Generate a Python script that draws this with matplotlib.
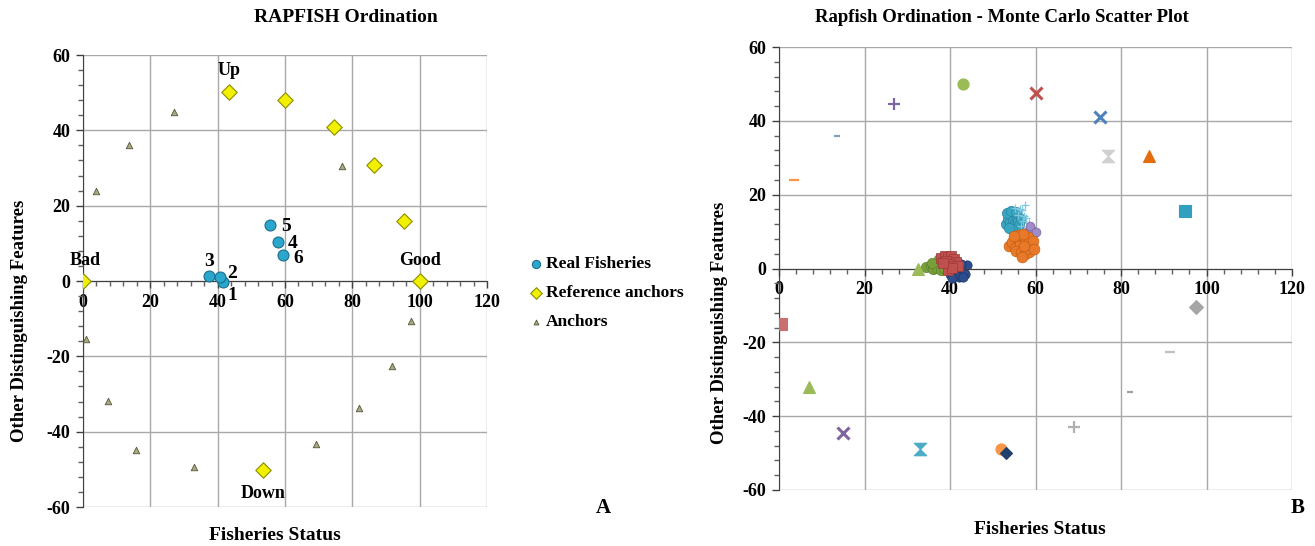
import matplotlib
matplotlib.use("Agg")
import matplotlib.pyplot as plt
from matplotlib.path import Path
from matplotlib.ticker import MultipleLocator

plt.rcParams['font.family'] = ['Liberation Serif', 'DejaVu Serif']
plt.rcParams['font.weight'] = 'bold'
plt.rcParams['axes.unicode_minus'] = False

# ---------------- Panel A data ----------------
real_x = [41.5, 40.8, 37.3, 58.0, 55.6, 59.4]
real_y = [-0.3, 1.0, 1.3, 10.4, 14.8, 7.0]
real_labels = ['1', '2', '3', '4', '5', '6']

ref_x = [0, 100, 43.5, 60.0, 74.6, 86.4, 95.3, 53.5]
ref_y = [0, 0, 50.2, 48.0, 41.0, 30.8, 15.8, -50.2]

anc_x = [27.0, 13.7, 3.8, 76.8, 0.9, 7.3, 15.7, 33.0, 69.2, 82.0, 91.8, 97.5]
anc_y = [45.0, 36.0, 23.9, 30.6, -15.3, -31.9, -44.8, -49.3, -43.4, -33.7, -22.5, -10.5]

ticks_x = [0, 20, 40, 60, 80, 100, 120]
ticks_y = [-60, -40, -20, 0, 20, 40, 60]

# ---------------- Panel B data ----------------
mc_x = [3.5, 13.5, 27.0, 43.0, 60.0, 75.0, 77.0, 86.5, 95.0, 0.5, 7.0, 15.0, 33.0, 52.0, 53.0, 69.0, 82.0, 91.5, 97.5, 32.5]
mc_y = [24.0, 36.0, 44.5, 50.0, 47.5, 41.0, 30.5, 30.5, 15.5, -15.0, -32.0, -44.5, -49.0, -49.0, -50.0, -43.0, -33.5, -22.5, -10.5, 0.0]
mc_marker = ['_', '_', '+', 'o', 'x', 'x', 'hg', '^', 's', 's', '^', 'x', 'hg', 'o', 'D', '+', '_', '_', 'D', '^']
mc_color = ['#F79646', '#7F9FC0', '#8064A2', '#9BBB59', '#C0504D', '#4F81BD', '#D0D0D0', '#E46C0A',
            '#31A0BE', '#C87070', '#9BBB59', '#8064A2', '#4BACC6', '#F79646', '#1F3F6D', '#B0B0B0',
            '#A0A0A0', '#C0C0C0', '#A6A6A6', '#9BBB59']
mc_size = [7, 4, 9, 8, 9, 9, 9, 8, 8, 8, 9, 9, 9, 8, 6, 9, 4, 7, 7, 8]

green_x = [34.5, 35.5, 36, 36.5, 37, 37.5, 38, 38.5, 39, 39.5, 40, 36, 37, 38, 39, 40, 37.5, 38.5, 39.5, 35.8]
green_y = [0.3, 0.8, 0.2, 1.2, 0.5, 1.6, 0.9, 2.0, 1.2, 0.4, 1.5, -0.2, 0.1, -0.3, 2.4, 0.7, 2.6, 0.2, 1.9, 1.6]

red_x = [38, 38.8, 39.5, 40.2, 41, 41.5, 39, 40, 40.8, 41.8, 39.6, 40.5, 38.4]
red_y = [2.8, 3.4, 3.0, 3.3, 2.6, 1.8, 2.0, 1.2, 0.8, 0.6, -0.4, 0.2, 1.4]

navy_x = [40, 40.8, 41.5, 42.2, 42.8, 43.4, 44, 41, 42, 43, 42.5, 40.5]
navy_y = [-1.6, -0.8, -1.3, -0.5, 0.4, -1.5, 0.9, 0.5, -2.2, -2.4, 1.2, -2.6]

teal_x = [53, 53.6, 54, 54.4, 54.8, 55.2, 55.6, 53.4, 54.2, 55, 55.8, 56.2, 54.6, 53.8, 55.4, 56.6]
teal_y = [12, 13.5, 12.5, 14.2, 13, 12.2, 14, 15, 15.6, 11.4, 12.8, 11.8, 10.8, 11, 15.2, 13.4]

cyan_x = [56, 56.8, 57.5, 57, 56.4, 55.2, 57.8, 58.5, 56.5, 57.2]
cyan_y = [14.5, 15.8, 17.2, 12.8, 16.2, 16.4, 13.6, 12.2, 11.5, 14.2]

purple_x = [58.2, 59, 59.6, 58.6, 60.2]
purple_y = [10.2, 10.8, 9.6, 11.4, 10]

orange_x = [53.8, 54.5, 55.2, 55.8, 56.4, 57, 57.6, 58.2, 58.8, 59.4, 55.5, 56.5, 57.5, 58.5, 56, 57, 58, 57.3, 56.8, 55, 59.6]
orange_y = [6, 7.2, 5.6, 8, 6.6, 8.4, 7, 8.6, 6.2, 7.4, 4.8, 4.4, 3.8, 4.6, 9, 9.4, 5.2, 6.2, 3.2, 8.8, 5.4]

hourglass = Path([(-1, 1), (1, 1), (-1, -1), (1, -1), (-1, 1)],
                 [Path.MOVETO, Path.LINETO, Path.LINETO, Path.LINETO, Path.CLOSEPOLY])

W, H = 1315, 546
fig = plt.figure(figsize=(W / 100, H / 100), dpi=100)


def fx(px):
    return px / W


def fy(py):
    return 1 - py / H


def style_axes(ax):
    ax.set_xlim(0, 120)
    ax.set_ylim(-60, 60)
    ax.set_xticks(ticks_x)
    ax.set_yticks(ticks_y)
    ax.xaxis.set_minor_locator(MultipleLocator(4))
    ax.yaxis.set_minor_locator(MultipleLocator(4))
    ax.grid(True, which='major', color='#a8a8a8', linewidth=1.0)
    ax.set_axisbelow(True)
    ax.spines['bottom'].set_position(('data', 0))
    ax.spines['bottom'].set_color('#404040')
    ax.spines['left'].set_color('#404040')
    ax.spines['top'].set_visible(False)
    ax.spines['right'].set_visible(False)
    ax.tick_params(which='major', direction='out', length=5, width=1.0, color='#404040', labelsize=13, pad=4)
    ax.tick_params(which='minor', direction='out', length=3.5, width=1.0, color='#606060')
    for lab in ax.get_xticklabels() + ax.get_yticklabels():
        lab.set_fontweight('bold')


# ---------------- Panel A ----------------
axA = fig.add_axes([fx(83), fy(507), 404 / W, 452 / H])
style_axes(axA)

h1 = axA.scatter(real_x, real_y, s=62, marker='o', c='#2BA6CC', edgecolors='#1A6F8C', linewidths=0.8, zorder=4)
h2 = axA.scatter(ref_x, ref_y, s=62, marker='D', c='#F0F000', edgecolors='#8C8C00', linewidths=0.8, zorder=3)
h3 = axA.scatter(anc_x, anc_y, s=22, marker='^', c='#A9A97C', edgecolors='#555540', linewidths=0.6, zorder=3)

offs = {'1': (1.5, -3.5), '2': (2.0, 1.0), '3': (-1.2, 4.0), '4': (2.8, -0.4), '5': (3.2, -0.4), '6': (3.2, -1.0)}
for x, y, t in zip(real_x, real_y, real_labels):
    dx, dy = offs[t]
    axA.text(x + dx, y + dy, t, fontsize=14, fontweight='bold', ha='left', va='center', zorder=5)

axA.text(0.5, 5.5, 'Bad', fontsize=13, fontweight='bold', ha='center', va='center')
axA.text(100, 5.5, 'Good', fontsize=13, fontweight='bold', ha='center', va='center')
axA.text(43.5, 56.0, 'Up', fontsize=13, fontweight='bold', ha='center', va='center')
axA.text(53.5, -56.5, 'Down', fontsize=13, fontweight='bold', ha='center', va='center')

fig.text(fx(346), fy(18), 'RAPFISH Ordination', fontsize=14, fontweight='bold', ha='center', va='center')
fig.text(fx(275), fy(535), 'Fisheries Status', fontsize=14, fontweight='bold', ha='center', va='center')
fig.text(fx(20), fy(321), 'Other Distinguishing Features', fontsize=13.5, fontweight='bold',
         ha='center', va='center', rotation=90)

fig.legend([h1, h2, h3], ['Real Fisheries', 'Reference anchors', 'Anchors'],
           loc='upper left', bbox_to_anchor=(fx(520), fy(249)), frameon=False,
           prop={'family': 'Liberation Serif', 'weight': 'bold', 'size': 12.5},
           handletextpad=0.1, labelspacing=0.75, handlelength=1.0, borderaxespad=0, markerscale=0.75)

fig.text(fx(603), fy(508), 'A', fontsize=15, fontweight='bold', ha='center', va='center')

# ---------------- Panel B ----------------
axB = fig.add_axes([fx(779), fy(490), 513 / W, 443 / H])
style_axes(axB)

axB.scatter(green_x, green_y, s=55, marker='o', c='#77A03A', edgecolors='#5F7F2C', linewidths=0.5, zorder=3)
axB.scatter(red_x, red_y, s=50, marker='s', c='#C0504D', edgecolors='#9A3A38', linewidths=0.5, zorder=3)
axB.scatter(navy_x, navy_y, s=45, marker='o', c='#2C4D8F', edgecolors='#1F3560', linewidths=0.5, zorder=2)
axB.scatter(teal_x, teal_y, s=55, marker='o', c='#3AA5C0', edgecolors='#2A85A0', linewidths=0.5, zorder=3)
axB.scatter(cyan_x, cyan_y, s=40, marker='+', c='#7FC8E0', linewidths=0.9, zorder=3)
axB.scatter(purple_x, purple_y, s=40, marker='o', c='#A08CC8', edgecolors='#8064A2', linewidths=0.5, zorder=3)
axB.scatter(orange_x, orange_y, s=60, marker='o', c='#E8792A', edgecolors='#C8600F', linewidths=0.5, zorder=3)

for x, y, m, c, sz in zip(mc_x, mc_y, mc_marker, mc_color, mc_size):
    mk = hourglass if m == 'hg' else m
    if m in ('x', '+', '_'):
        axB.plot([x], [y], marker=mk, color=c, markersize=sz, markeredgewidth=2.2 if m == 'x' else 1.6,
                 linestyle='none', zorder=4)
    else:
        axB.plot([x], [y], marker=mk, color=c, markersize=sz, markeredgecolor=c,
                 markeredgewidth=0.8, linestyle='none', zorder=4)

fig.text(fx(1002), fy(18), 'Rapfish Ordination - Monte Carlo Scatter Plot', fontsize=13.5,
         fontweight='bold', ha='center', va='center')
fig.text(fx(1040), fy(529), 'Fisheries Status', fontsize=14, fontweight='bold', ha='center', va='center')
fig.text(fx(719), fy(323), 'Other Distinguishing Features', fontsize=13.5, fontweight='bold',
         ha='center', va='center', rotation=90)

fig.text(fx(1298), fy(508), 'B', fontsize=15, fontweight='bold', ha='center', va='center')

fig.savefig('out.png', dpi=100)
